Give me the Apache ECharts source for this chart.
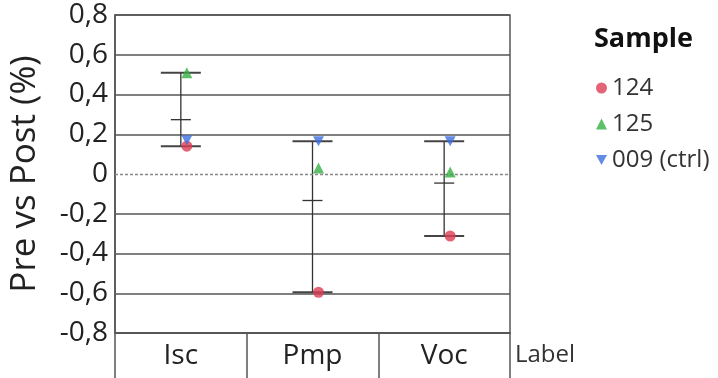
<!DOCTYPE html>
<html><head><meta charset="utf-8">
<script src="https://cdn.jsdelivr.net/npm/echarts@6/dist/echarts.min.js"></script>
<style>html,body{margin:0;padding:0;background:#fff}#c{width:718px;height:378px}</style>
</head><body><div id="c"></div>
<script>
const categories = ['Isc', 'Pmp', 'Voc'];
const s124 = [0.14, -0.595, -0.312];
const s125 = [0.51, 0.03, 0.01];
const s009 = [0.17, 0.165, 0.165];
const seriesNames = ['124', '125', '009 (ctrl)'];
const yTicks = [-0.8, -0.6, -0.4, -0.2, 0, 0.2, 0.4, 0.6, 0.8];

const font = '"Open Sans", "Noto Sans", sans-serif';
const colors = ['#dc3c55', '#34b043', '#3c6ee0'];
const all = [s124, s125, s009];
const errData = categories.map((c, i) => {
  const vals = all.map(a => a[i]);
  const mn = Math.min(...vals), mx = Math.max(...vals);
  const mean = vals.reduce((a, b) => a + b, 0) / vals.length;
  return [i, mn, mx, mean];
});
const downTri = 'path://M0,0 L10,0 L5,9 Z';

const chart = echarts.init(document.getElementById('c'));
chart.setOption({
  animation: false,
  title: { text: 'Sample', left: 589, top: 21, textStyle: { fontFamily: font, fontSize: 27, fontWeight: 'bold', color: '#111' } },
  legend: {
    orient: 'vertical', left: 591, top: 71, itemGap: 12, itemWidth: 11, itemHeight: 11,
    textStyle: { fontFamily: font, fontSize: 24, color: '#333' },
    data: [
      { name: seriesNames[0], icon: 'circle' },
      { name: seriesNames[1], icon: 'triangle' },
      { name: seriesNames[2], icon: downTri }
    ]
  },
  grid: { left: 115, right: 208, top: 15, bottom: 45, show: true, borderColor: '#555', borderWidth: 1.5 },
  xAxis: {
    type: 'category', data: categories, boundaryGap: true,
    axisLine: { show: true, onZero: false, lineStyle: { color: '#555', width: 1.5 } },
    axisTick: { show: true, length: 46, lineStyle: { color: '#555', width: 1.5 } },
    axisLabel: { fontFamily: font, fontSize: 28, color: '#222', margin: 9 },
    name: 'Label', nameLocation: 'end', nameGap: 5,
    nameTextStyle: { fontFamily: font, fontSize: 24, color: '#333', verticalAlign: 'top', align: 'left', padding: [10, 0, 0, 0] }
  },
  yAxis: {
    type: 'value', min: -0.8, max: 0.8, interval: 0.2,
    name: 'Pre vs Post (%)', nameLocation: 'middle', nameGap: 72, nameRotate: 90,
    nameTextStyle: { fontFamily: font, fontSize: 35, color: '#222' },
    axisLine: { show: true, lineStyle: { color: '#555', width: 1.5 } },
    axisTick: { show: false },
    axisLabel: {
      fontFamily: font, fontSize: 28, color: '#222', margin: 7,
      formatter: v => { const r = Math.round(v * 10) / 10; return r === 0 ? '0' : r.toFixed(1).replace('.', ','); }
    },
    splitLine: { show: true, lineStyle: { color: ['#555', '#555', '#555', '#555', 'transparent', '#555', '#555', '#555', '#555'], width: 1.5 } }
  },
  series: [
    {
      type: 'custom', name: 'err', silent: true, z: 3,
      data: errData,
      renderItem: (params, api) => {
        const x = api.value(0);
        const pMin = api.coord([x, api.value(1)]);
        const pMax = api.coord([x, api.value(2)]);
        const pMean = api.coord([x, api.value(3)]);
        const st = { stroke: '#333', lineWidth: 1.3 };
        const cap = { stroke: '#444', lineWidth: 2 };
        return { type: 'group', children: [
          { type: 'line', shape: { x1: pMax[0], y1: pMax[1], x2: pMin[0], y2: pMin[1] }, style: st },
          { type: 'line', shape: { x1: pMax[0] - 20, y1: pMax[1], x2: pMax[0] + 20, y2: pMax[1] }, style: cap },
          { type: 'line', shape: { x1: pMin[0] - 20, y1: pMin[1], x2: pMin[0] + 20, y2: pMin[1] }, style: cap },
          { type: 'line', shape: { x1: pMean[0] - 10, y1: pMean[1], x2: pMean[0] + 10, y2: pMean[1] }, style: st }
        ] };
      },
      markLine: {
        silent: true, symbol: 'none', label: { show: false },
        lineStyle: { color: '#888', type: [3, 2], width: 1.3 },
        data: [{ yAxis: 0 }]
      }
    },
    { type: 'scatter', name: seriesNames[0], symbol: 'circle', symbolSize: 11, symbolOffset: [6, 0], z: 5,
      itemStyle: { color: colors[0] }, data: s124.map((v, i) => [i, v]) },
    { type: 'scatter', name: seriesNames[1], symbol: 'triangle', symbolSize: 11, symbolOffset: [6, 0], z: 5,
      itemStyle: { color: colors[1] }, data: s125.map((v, i) => [i, v]) },
    { type: 'scatter', name: seriesNames[2], symbol: downTri, symbolSize: [11, 10], symbolOffset: [6, 0], z: 5,
      itemStyle: { color: colors[2] }, data: s009.map((v, i) => [i, v]) }
  ]
});
</script></body></html>
